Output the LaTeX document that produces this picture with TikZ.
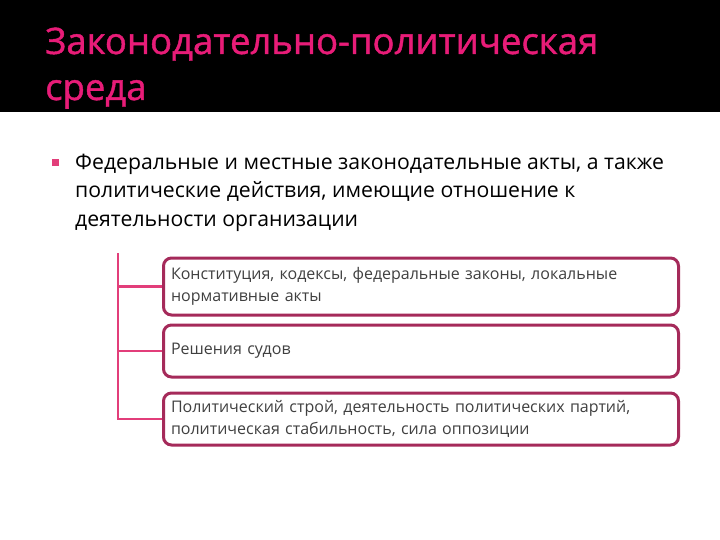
\documentclass[tikz,border=0pt]{standalone}
\usepackage{fontspec}
\setmainfont{Open Sans}
\usetikzlibrary{positioning}
\definecolor{titlepink}{RGB}{232,28,120}
\definecolor{linepink}{RGB}{226,62,122}
\definecolor{boxred}{RGB}{165,42,90}
\definecolor{boxtext}{RGB}{64,64,64}
\begin{document}
\begin{tikzpicture}[x=1pt,y=-1pt,
  box/.style={draw=boxred, line width=3pt, rounded corners=8pt, fill=white,
    minimum width=515pt, text width=500pt, align=left, inner xsep=6pt, anchor=west,
    font=\fontsize{16}{21.5}\selectfont, text=boxtext},
  tree/.style={linepink, line width=2.5pt}]
\useasboundingbox (0,0) rectangle (720,540);
\fill[black] (0,0) rectangle (720,112);
% title
\node[anchor=base west, inner sep=0, text=titlepink, font=\fontsize{36.5}{36}\selectfont\addfontfeature{FakeBold=1.2}] (title) at (45,54) {Законодательно-политическая};
\node[anchor=base west, inner sep=0, text=titlepink, font=\fontsize{36.5}{36}\selectfont\addfontfeature{FakeBold=1.2}] (title2) at (45,100) {среда};
% bullet
\fill[linepink] (52,159) rectangle (59,166);
\node[anchor=base west, inner sep=0, font=\fontsize{21.2}{28}\selectfont] (line1) at (75,170) {Федеральные и местные законодательные акты, а также};
\node[anchor=base west, inner sep=0, font=\fontsize{21.2}{28}\selectfont] (line2) at (75,198) {политические действия, имеющие отношение к};
\node[anchor=base west, inner sep=0, font=\fontsize{21.2}{28}\selectfont] (line3) at (75,226) {деятельности организации};
% boxes
\node[box, minimum height=57pt] (acts) at (162,286.5) {Конституция, кодексы, федеральные законы, локальные\\нормативные акты};
\node[box, minimum height=52pt] (courts) at (162,351) {Решения судов};
\node[box, minimum height=52pt] (regime) at (162,419) {Политический строй, деятельность политических партий,\\политическая стабильность, сила оппозиции};
% tree
\coordinate (trunk) at (118,253);
\draw[tree] (trunk) |- (regime.west);
\draw[tree] (acts.west -| trunk) -- (acts.west);
\draw[tree] (courts.west -| trunk) -- (courts.west);
\end{tikzpicture}
\end{document}
